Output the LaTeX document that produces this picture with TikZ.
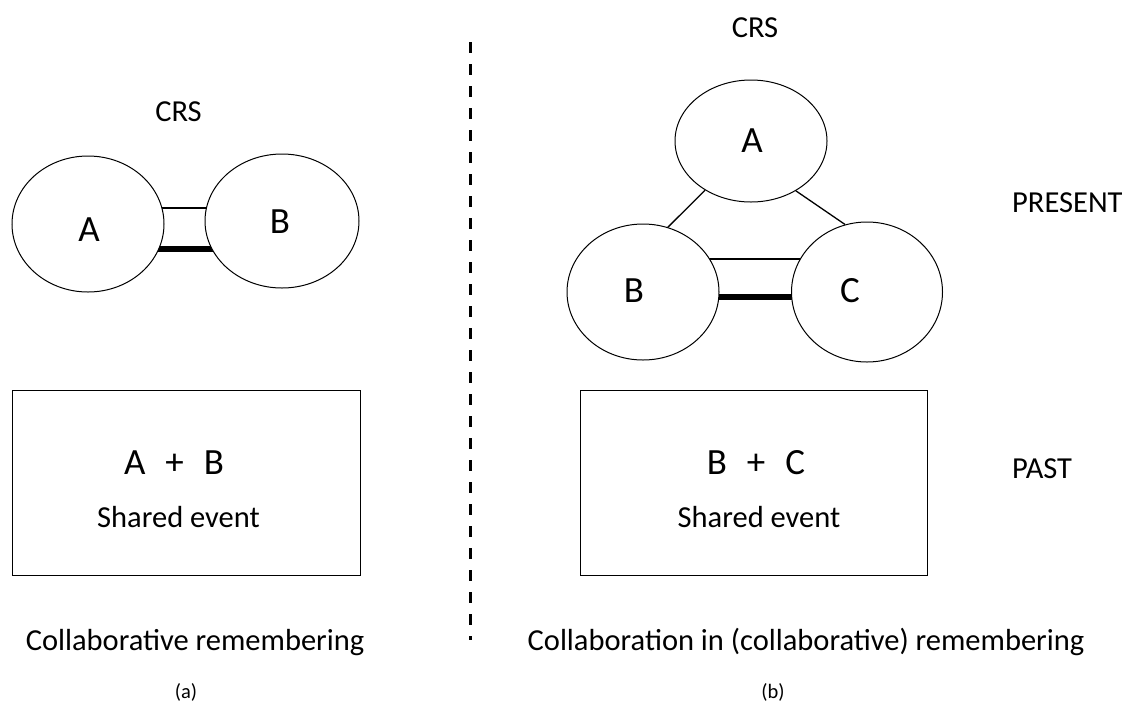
\documentclass[tikz,border=0pt]{standalone}
\usepackage{fontspec}
\setmainfont{Carlito}
\usetikzlibrary{backgrounds,calc,shapes.geometric}
\begin{document}
\begin{tikzpicture}[x=1pt,y=-1pt,
  circ/.style={draw,ellipse,fill=white,line width=1pt,inner sep=0pt},
  thinlink/.style={line width=1.3pt},
  thicklink/.style={line width=6pt},
  lbl/.style={font=\fontsize{30.5}{33}\selectfont,anchor=base,inner sep=0pt},
  big/.style={font=\fontsize{37}{40}\selectfont,anchor=base,inner sep=0pt},
  sm/.style={font=\fontsize{20.5}{24}\selectfont},
  box/.style={draw,line width=1pt,minimum width=348pt,minimum height=185pt,inner sep=0pt}
]
\useasboundingbox (0,0) rectangle (1125,713);
% ---- left (a)
\node[lbl] (crsa) at (178.5,121) {CRS};
\node[circ,minimum width=152pt,minimum height=136pt] (eA) at (88,224) {};
\node[circ,minimum width=154pt,minimum height=134pt] (eB) at (282,221) {};
\node[big] (lA) at (89,241) {A};
\node[big] (lB) at (280,233) {B};
\begin{scope}[on background layer]
  \path ($(eA.center)+(0,-16)$) coordinate (t1) ($(eA.center)+(0,25)$) coordinate (t2);
  \draw[thinlink] (t1) -- (t1 -| eB.center);
  \draw[thicklink] (t2) -- (t2 -| eB.center);
\end{scope}
\node[box] (boxa) at (186,482.5) {};
\node[big] (abtxt) at (174,474) {A\hspace{20pt}+\hspace{20pt}B};
\node[lbl] (seA) at (178.5,527) {Shared event};
\node[lbl] (capa) at (195,650) {Collaborative remembering};
\node[sm] (tagA) at (186,692) {(a)};
% ---- divider
\coordinate (d1) at (470,42);
\coordinate (d2) at (470,640);
\draw[line width=3pt,dash pattern=on 11pt off 11pt] (d1) -- (d2);
% ---- right (b)
\node[lbl] (crsb) at (755,37) {CRS};
\node[circ,minimum width=152pt,minimum height=122pt] (rA) at (751,141) {};
\node[circ,minimum width=152pt,minimum height=136pt] (rB) at (643,292) {};
\node[circ,minimum width=151pt,minimum height=140pt] (rC) at (867,292) {};
\node[big] (lrA) at (752,152) {A};
\node[big] (lrB) at (634,302) {B};
\node[big] (lrC) at (850,302) {C};
\draw[line width=1.3pt] (rA.227) -- (rB.69);
\draw[line width=1.3pt] (rA.312) -- (rC.108);
\begin{scope}[on background layer]
  \path ($(rB.center)+(0,-33)$) coordinate (t3) ($(rB.center)+(0,5)$) coordinate (t4);
  \draw[thinlink] (t3) -- (t3 -| rC.center);
  \draw[thicklink] (t4) -- (t4 -| rC.center);
\end{scope}
\node[lbl,anchor=base west] (present) at (1012,212) {PRESENT};
\node[lbl,anchor=base west] (past) at (1012,478) {PAST};
\node[box,minimum width=347pt] (boxb) at (753.5,482.5) {};
\node[big] (bctxt) at (756,474) {B\hspace{20pt}+\hspace{20pt}C};
\node[lbl] (seB) at (759,527) {Shared event};
\node[lbl] (capb) at (806,650) {Collaboration in (collaborative) remembering};
\node[sm] (tagB) at (773,692) {(b)};
\end{tikzpicture}
\end{document}
